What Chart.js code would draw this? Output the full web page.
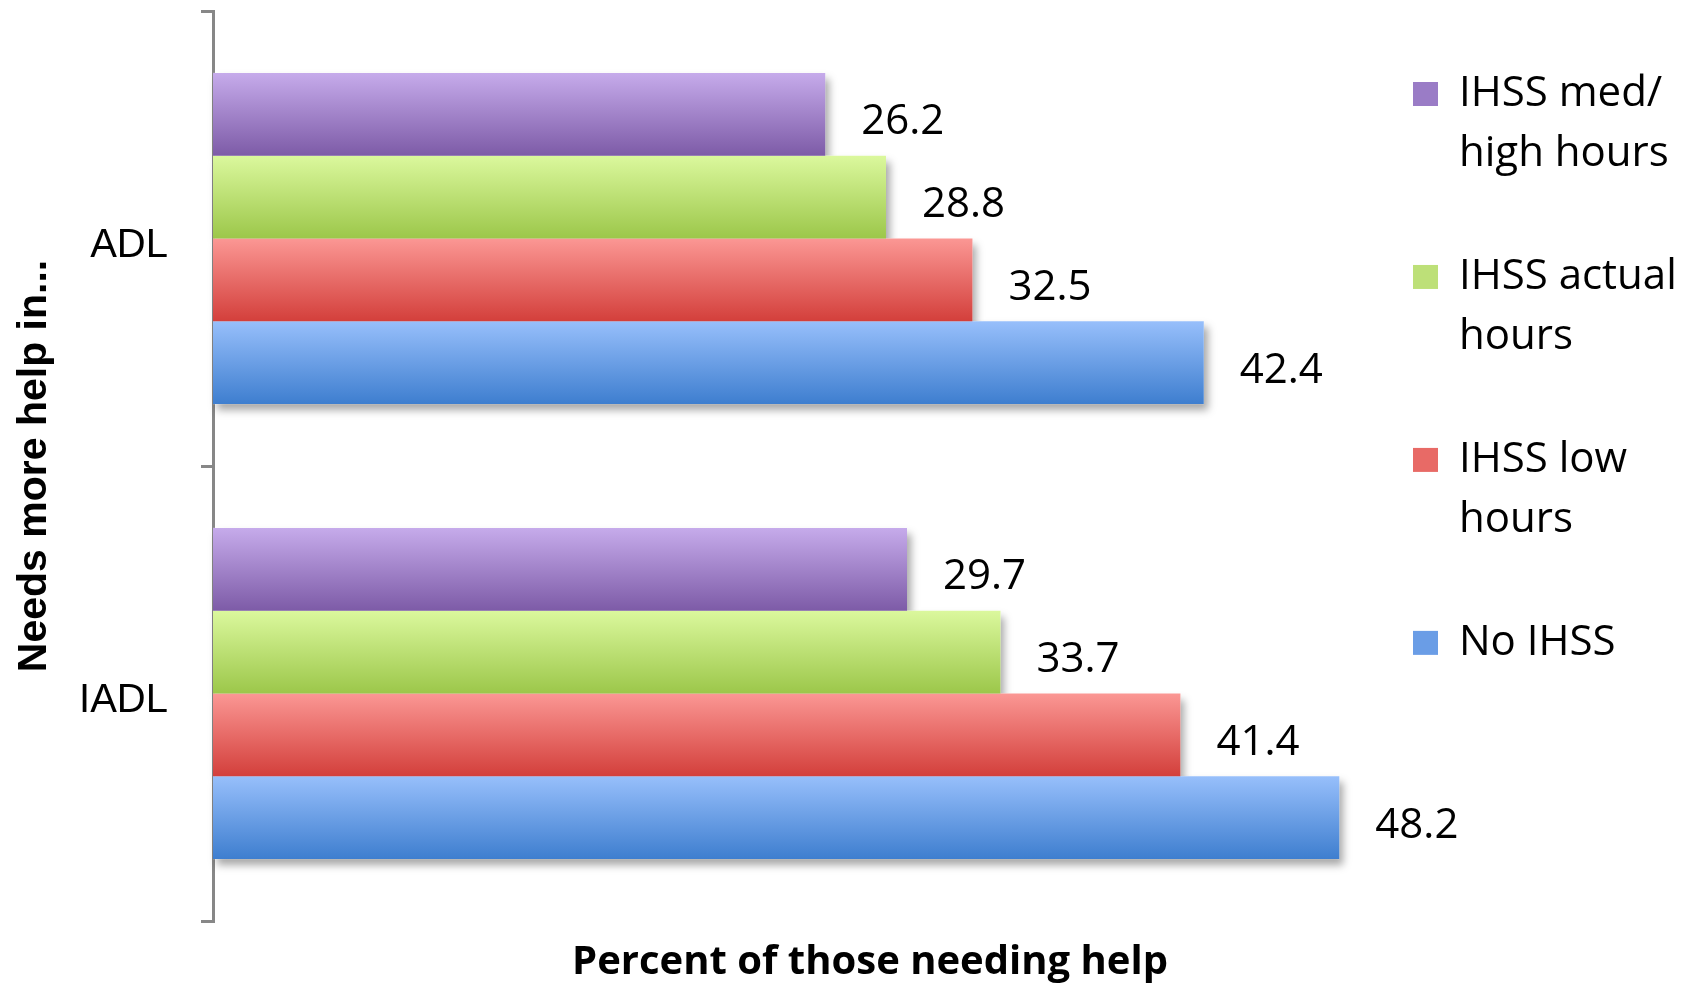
<!DOCTYPE html>
<html>
<head>
<meta charset="utf-8">
<title>Needs more help</title>
<script src="https://cdn.jsdelivr.net/npm/chart.js@4.4.1/dist/chart.umd.min.js"></script>
<style>
  html, body { margin: 0; padding: 0; background: #fff; }
  #wrap { width: 1689px; height: 985px; position: relative; }
</style>
</head>
<body>
<div id="wrap"><canvas id="helpChart"></canvas></div>
<script>
// categories and series
var categories = ['ADL', 'IADL'];
var seriesNames = [['IHSS med/', 'high hours'], ['IHSS actual', 'hours'], ['IHSS low', 'hours'], ['No IHSS']];
var medHighHours = [26.2, 29.7];
var actualHours = [28.8, 33.7];
var lowHours = [32.5, 41.4];
var noIhss = [42.4, 48.2];

// colours: [top of bar, bottom of bar, legend swatch]
var purple = ['#c6abeb', '#7d5ba7', '#9a7cc6'];
var green = ['#dbf89d', '#9cc74a', '#bde078'];
var red = ['#fb9794', '#d33f3b', '#e86a66'];
var blue = ['#97bffb', '#3e7ecf', '#6a9de6'];
var palette = [purple, green, red, blue];

// vertical gradient + drop shadow on every bar
var barLook = {
    id: 'barLook',
    beforeDatasetsDraw: function(chart) {
        var ctx = chart.ctx;
        chart.data.datasets.forEach(function(ds, d) {
            var meta = chart.getDatasetMeta(d);
            meta.data.forEach(function(el) {
                var top = el.y - el.height / 2;
                var g = ctx.createLinearGradient(0, top, 0, top + el.height);
                g.addColorStop(0, palette[d][0]);
                g.addColorStop(1, palette[d][1]);
                el.options = Object.assign({}, el.options, {backgroundColor: g});
                // shadow, covered by the bars where they touch
                ctx.save();
                ctx.shadowColor = 'rgba(0,0,0,0.35)';
                ctx.shadowBlur = 8;
                ctx.shadowOffsetX = 4;
                ctx.shadowOffsetY = 6;
                ctx.fillStyle = '#fff';
                ctx.fillRect(el.base, top, el.x - el.base, el.height);
                ctx.restore();
            });
        });
    }
};

// value labels right of each bar
var valueLabels = {
    id: 'valueLabels',
    afterDatasetsDraw: function(chart) {
        var ctx = chart.ctx;
        ctx.save();
        ctx.font = '42px "Open Sans"';
        ctx.fillStyle = '#000';
        ctx.textAlign = 'left';
        ctx.textBaseline = 'middle';
        chart.data.datasets.forEach(function(ds, d) {
            chart.getDatasetMeta(d).data.forEach(function(el, i) {
                ctx.fillText(ds.data[i].toFixed(1), el.x + 36, el.y + 8);
            });
        });
        ctx.restore();
    }
};

function makeSet(i, values) {
    return {
        label: seriesNames[i],
        data: values,
        backgroundColor: palette[i][2],
        borderWidth: 0,
        categoryPercentage: 0.728,
        barPercentage: 1.0
    };
}

var ctx = document.getElementById('helpChart').getContext('2d');
var helpChart = new Chart(ctx, {
    type: 'bar',
    data: {
        labels: categories,
        datasets: [
            makeSet(0, medHighHours),
            makeSet(1, actualHours),
            makeSet(2, lowHours),
            makeSet(3, noIhss)
        ]
    },
    plugins: [barLook, valueLabels],
    options: {
        indexAxis: 'y',
        responsive: true,
        maintainAspectRatio: false,
        animation: false,
        layout: { padding: { top: 11, right: 10, bottom: 0, left: 61 } },
        scales: {
            x: { display: false, min: 0, max: 48.7 },
            y: {
                border: { display: true, color: '#878787', width: 3 },
                grid: { drawOnChartArea: false, drawTicks: true, tickLength: 12, color: '#878787', lineWidth: 3, offset: true },
                ticks: { color: '#000', padding: 33, labelOffset: 7, font: { family: '"Liberation Sans", Arial', size: 40 } },
                title: {
                    display: true,
                    text: 'Needs more help in...',
                    color: '#000',
                    padding: { top: -51, bottom: 0 },
                    font: { family: '"Liberation Sans", Arial', size: 41, weight: 'bold' }
                },
                // fixed axis width, no extra room above/below for the labels
                afterFit: function(scale) {
                    scale.width = 152;
                    scale.paddingTop = 0;
                    scale.paddingBottom = 0;
                }
            }
        },
        plugins: {
            tooltip: { enabled: false },
            legend: {
                position: 'right',
                align: 'start',
                maxWidth: 328,
                labels: {
                    boxWidth: 25,
                    boxHeight: 24,
                    padding: 62,
                    color: '#000',
                    font: { family: '"Open Sans"', size: 42, lineHeight: 1.44 }
                }
            },
            title: {
                display: true,
                position: 'bottom',
                text: 'Percent of those needing help',
                color: '#000',
                padding: { top: 20, bottom: 0 },
                font: { family: '"Open Sans"', size: 40, weight: 'bold', lineHeight: 1.1 }
            }
        }
    }
});
</script>
</body>
</html>
